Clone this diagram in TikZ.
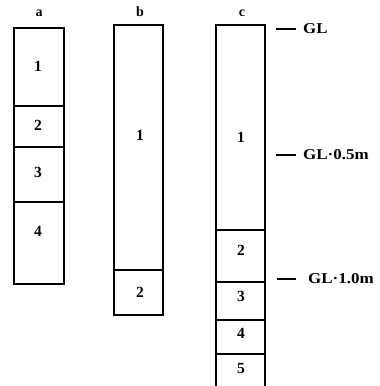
\documentclass[tikz,border=0pt]{standalone}
\usepackage{fontspec}
\setmainfont{Liberation Serif}
\begin{document}
\begin{tikzpicture}[x=1pt,y=-1pt,
  box/.style={line width=1.4pt},
  num/.style={font=\bfseries\fontsize{15.5}{17}\selectfont, inner sep=0pt},
  head/.style={font=\bfseries\fontsize{14}{16}\selectfont, inner sep=0pt},
  gl/.style={font=\bfseries\fontsize{15}{17}\selectfont, inner sep=0pt, anchor=west},
  tick/.style={line width=1.4pt}]
\useasboundingbox (0,0) rectangle (380,386);
% column a
\draw[box] (14,28) rectangle (64,284);
\draw[box] (14,106) -- (64,106);
\draw[box] (14,147) -- (64,147);
\draw[box] (14,202) -- (64,202);
\node[head] (ha) at (39,13) {a};
\node[num] (a1) at (38,66) {1};
\node[num] (a2) at (38,125) {2};
\node[num] (a3) at (38,172) {3};
\node[num] (a4) at (38,231) {4};
% column b
\draw[box] (114,25) rectangle (163,315);
\draw[box] (114,270) -- (163,270);
\node[head] (hb) at (140,12) {b};
\node[num] (b1) at (140,135) {1};
\node[num] (b2) at (140,292) {2};
% column c
\draw[box] (216,386) -- (216,25) -- (265,25) -- (265,386);
\draw[box] (216,230) -- (265,230);
\draw[box] (216,282) -- (265,282);
\draw[box] (216,320) -- (265,320);
\draw[box] (216,354) -- (265,354);
\node[head] (hc) at (242,13) {c};
\node[num] (c1) at (241,137) {1};
\node[num] (c2) at (241,250) {2};
\node[num] (c3) at (241,296) {3};
\node[num] (c4) at (241,333) {4};
\node[num] (c5) at (241,368) {5};
% depth marks
\coordinate (t0) at (276,29);
\coordinate (t1) at (276,155);
\coordinate (t2) at (277,279);
\node[gl] (g0) at (303,29) {\scalebox{1.12}[1]{GL}};
\node[gl] (g1) at (303,155) {\scalebox{1.13}[1]{GL·0.5m}};
\node[gl] (g2) at (308,279) {\scalebox{1.13}[1]{GL·1.0m}};
\draw[tick] (t0) -- ++(20,0);
\draw[tick] (t1) -- ++(20,0);
\draw[tick] (t2) -- ++(19,0);
\end{tikzpicture}
\end{document}
